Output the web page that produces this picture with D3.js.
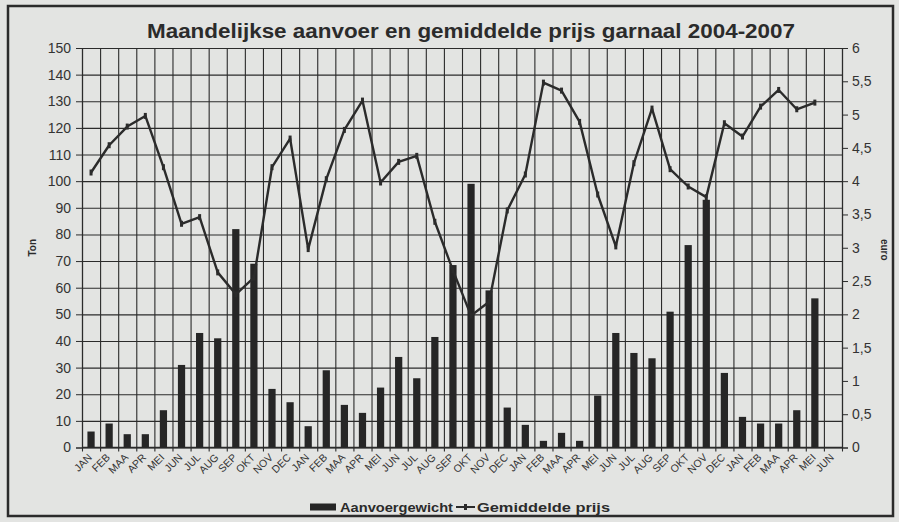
<!DOCTYPE html>
<html>
<head>
<meta charset="utf-8">
<script src="https://cdn.jsdelivr.net/npm/d3@7"></script>
<style>
  body { margin: 0; background: #e3e4e2; }
  svg { display: block; font-family: "Liberation Sans", Arial, sans-serif; }
</style>
</head>
<body>
<svg id="vis" width="899" height="522"></svg>
<script>
// month labels, 2004 - jun 2007
const months = ["JAN","FEB","MAA","APR","MEI","JUN","JUL","AUG","SEP","OKT","NOV","DEC"]
const labels = [...months, ...months, ...months, "JAN","FEB","MAA","APR","MEI","JUN"]

// aanvoergewicht (ton)
const aanvoer = [
  6, 9, 5, 5, 14, 31, 43, 41, 82, 69, 22, 17,
  8, 29, 16, 13, 22.5, 34, 26, 41.5, 68.5, 99, 59, 15,
  8.5, 2.5, 5.5, 2.5, 19.5, 43, 35.5, 33.5, 51, 76, 93, 28,
  11.5, 9, 9, 14, 56, null
]

// gemiddelde prijs (euro)
const prijs = [
  4.13, 4.54, 4.82, 4.98, 4.21, 3.36, 3.46, 2.63, 2.30, 2.55, 4.21, 4.64,
  2.98, 4.03, 4.77, 5.21, 3.98, 4.29, 4.38, 3.39, 2.66, 1.98, 2.19, 3.56,
  4.10, 5.48, 5.36, 4.89, 3.80, 3.02, 4.27, 5.09, 4.18, 3.92, 3.76, 4.87,
  4.67, 5.12, 5.37, 5.08, 5.18, null
]

const leftTicks = d3.range(0, 151, 10)
const rightTicks = d3.range(0, 6.01, 0.5)

const vis = d3.select("#vis")
const margin = { top: 48, right: 57, bottom: 74.5, left: 82 }
const W = 899, H = 522
const width = W - margin.left - margin.right
const height = H - margin.top - margin.bottom
const ink = "#2b2b2b"

// outer frame
vis.append("rect")
  .attr("x", 8).attr("y", 6).attr("width", 885).attr("height", 510)
  .attr("fill", "none").attr("stroke", ink).attr("stroke-width", 2.5)

// title (the scan is a bit wider than the font, so stretch it)
vis.append("text")
  .attr("x", 147).attr("y", 38)
  .attr("textLength", 648).attr("lengthAdjust", "spacingAndGlyphs")
  .attr("font-size", 20).attr("font-weight", "bold").attr("fill", ink)
  .text("Maandelijkse aanvoer en gemiddelde prijs garnaal 2004-2007")

const g = vis.append("g").attr("transform", `translate(${margin.left},${margin.top})`)

// scales
const x = d3.scaleBand().domain(d3.range(labels.length)).range([0, width]).padding(0)
const xb = d3.scaleLinear().domain([0, labels.length]).range([0, width])
const yL = d3.scaleLinear().domain([0, 150]).range([height, 0])
const yR = d3.scaleLinear().domain([0, 6]).range([height, 0])

// horizontal grid
g.append("g")
  .call(d3.axisLeft(yL).tickValues(leftTicks).tickSize(-width).tickFormat(""))
  .call(s => s.select(".domain").remove())
  .call(s => s.selectAll("line").attr("stroke", ink).attr("stroke-width", 1.1))

// vertical grid + ticks below axis
g.append("g")
  .attr("transform", `translate(0,${height + 4})`)
  .call(d3.axisBottom(xb).tickValues(d3.range(0, labels.length + 1)).tickSize(-(height + 4)).tickFormat(""))
  .call(s => s.select(".domain").remove())
  .call(s => s.selectAll("line").attr("stroke", ink).attr("stroke-width", 1.1))

// left axis
g.append("g")
  .call(d3.axisLeft(yL).tickValues(leftTicks).tickSize(6).tickPadding(5))
  .call(s => s.select(".domain").attr("stroke", ink).attr("stroke-width", 1.2))
  .call(s => s.selectAll("line").attr("stroke", ink))
  .call(s => s.selectAll("text").attr("font-size", 14).attr("fill", "#333"))

// right axis
g.append("g")
  .attr("transform", `translate(${width},0)`)
  .call(d3.axisRight(yR).tickValues(rightTicks).tickSize(6).tickPadding(4)
    .tickFormat(d => String(d).replace(".", ",")))
  .call(s => s.select(".domain").attr("stroke", ink).attr("stroke-width", 1.2))
  .call(s => s.selectAll("line").attr("stroke", ink))
  .call(s => s.selectAll("text").attr("font-size", 14).attr("fill", "#333"))

// x axis baseline
g.append("line")
  .attr("x1", 0).attr("x2", width).attr("y1", height).attr("y2", height)
  .attr("stroke", ink).attr("stroke-width", 1.3)

// month labels, slanted
const lab = g.append("g").selectAll("g")
  .data(labels)
  .join("g")
  .attr("transform", (d, i) => `translate(${x(i) + x.bandwidth() / 2 - 1},${height + 8})`)
lab.append("text")
  .attr("transform", "rotate(-45)")
  .attr("text-anchor", "end")
  .attr("dy", "0.35em")
  .attr("font-size", 10.5).attr("fill", "#333")
  .text(d => d)

// bars
const bw = x.bandwidth() * 0.4
g.selectAll(".bar")
  .data(aanvoer.map((v, i) => ({ v, i })).filter(d => d.v != null))
  .join("rect")
  .attr("class", "bar")
  .attr("x", d => x(d.i) + x.bandwidth() / 2 - bw / 2)
  .attr("y", d => yL(d.v))
  .attr("width", bw)
  .attr("height", d => height - yL(d.v))
  .attr("fill", "#262626")

// price line
const pts = prijs.map((v, i) => ({ v, i })).filter(d => d.v != null)
const line = d3.line().x(d => x(d.i) + x.bandwidth() / 2).y(d => yR(d.v))
g.append("path")
  .datum(pts)
  .attr("d", line)
  .attr("fill", "none").attr("stroke", ink).attr("stroke-width", 2.4)
  .attr("stroke-linejoin", "round")

g.selectAll(".mark")
  .data(pts)
  .join("rect")
  .attr("class", "mark")
  .attr("x", d => x(d.i) + x.bandwidth() / 2 - 1.5)
  .attr("y", d => yR(d.v) - 3)
  .attr("width", 3).attr("height", 6)
  .attr("fill", ink)

// axis titles
vis.append("text")
  .attr("transform", `translate(36,${margin.top + height / 2}) rotate(-90)`)
  .attr("text-anchor", "middle")
  .attr("font-size", 10).attr("font-weight", "bold").attr("fill", ink)
  .text("Ton")
vis.append("text")
  .attr("transform", `translate(881,${margin.top + height / 2 + 2}) rotate(90)`)
  .attr("text-anchor", "middle")
  .attr("font-size", 10).attr("font-weight", "bold").attr("fill", ink)
  .text("euro")

// legend
const leg = vis.append("g").attr("transform", "translate(310,507)")
leg.append("rect").attr("x", 0).attr("y", -3.5).attr("width", 26).attr("height", 7).attr("fill", "#262626")
leg.append("text").attr("x", 30).attr("y", 5)
  .attr("textLength", 113).attr("lengthAdjust", "spacingAndGlyphs")
  .attr("font-size", 13.5).attr("font-weight", "bold").attr("fill", ink)
  .text("Aanvoergewicht")
leg.append("line").attr("x1", 146).attr("x2", 165).attr("y1", 0).attr("y2", 0)
  .attr("stroke", ink).attr("stroke-width", 2)
leg.append("rect").attr("x", 154).attr("y", -3).attr("width", 3).attr("height", 6).attr("fill", ink)
leg.append("text").attr("x", 167).attr("y", 5)
  .attr("textLength", 133).attr("lengthAdjust", "spacingAndGlyphs")
  .attr("font-size", 13.5).attr("font-weight", "bold").attr("fill", ink)
  .text("Gemiddelde prijs")
</script>
</body>
</html>
